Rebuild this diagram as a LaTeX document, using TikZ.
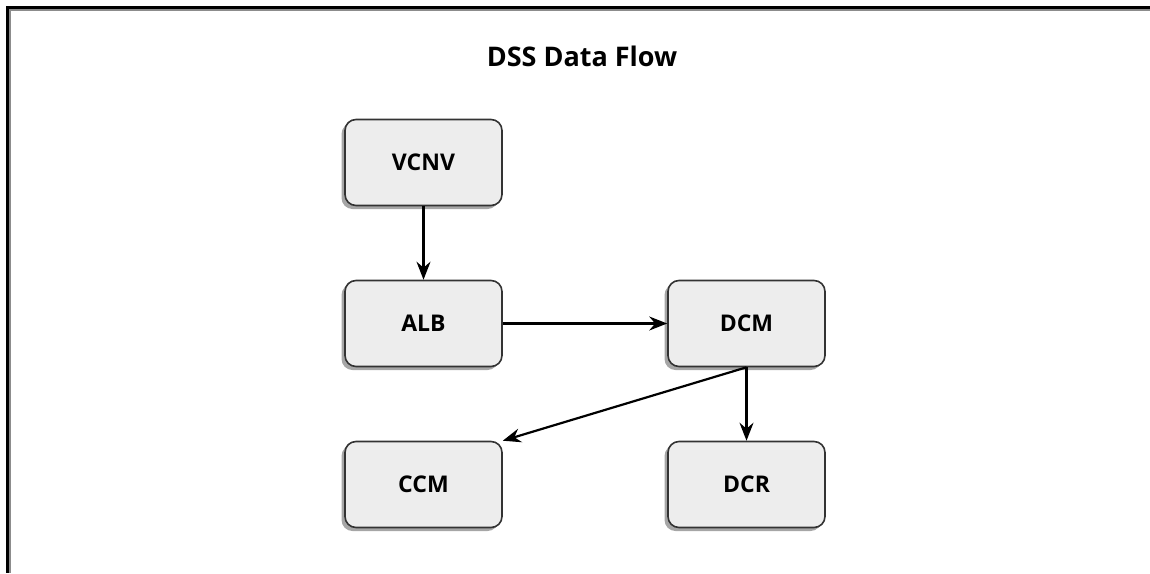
\documentclass[tikz,border=0pt]{standalone}
\usepackage{fontspec}
\setmainfont{Open Sans}
\usetikzlibrary{arrows.meta,shadows}

\begin{document}
\begin{tikzpicture}[x=1pt, y=-1pt,
    module/.style={draw=black!80, line width=1.6pt, fill=black!7, rounded corners=11pt,
        minimum width=157pt, minimum height=86pt, font=\bfseries\fontsize{23}{27}\selectfont,
        drop shadow={shadow xshift=-3.5pt, shadow yshift=-3.5pt, fill=black!35, opacity=1}},
    dataflow/.style={-{Stealth[length=18pt,width=14pt,inset=6pt]}, line width=2.2pt}]
    \useasboundingbox (0,0) rectangle (1150,573);
    % Frame
    \draw[line width=4pt, black!45] (6,9) -- (1150,9);
    \draw[line width=4pt, black!45] (9,6) -- (9,573);
    \draw[line width=3pt] (6,7.5) -- (1150,7.5);
    \draw[line width=3pt] (7.5,6) -- (7.5,573);

    % Title
    \node[font=\bfseries\fontsize{27}{32}\selectfont] (title) at (582,56) {DSS Data Flow};

    % Modules
    \node[module] (vcnv) at (423.5,162.5) {VCNV};
    \node[module] (alb) at (423.5,323.5) {ALB};
    \node[module] (dcm) at (746.5,323.5) {DCM};
    \node[module] (ccm) at (423.5,484.5) {CCM};
    \node[module] (dcr) at (746.5,484.5) {DCR};

    % Flows
    \draw[dataflow] (vcnv) -- (alb);
    \draw[dataflow] (alb) -- (dcm);
    \draw[dataflow] (dcm.south) -- (ccm.north east);
    \draw[dataflow] (dcm) -- (dcr);
\end{tikzpicture}
\end{document}
